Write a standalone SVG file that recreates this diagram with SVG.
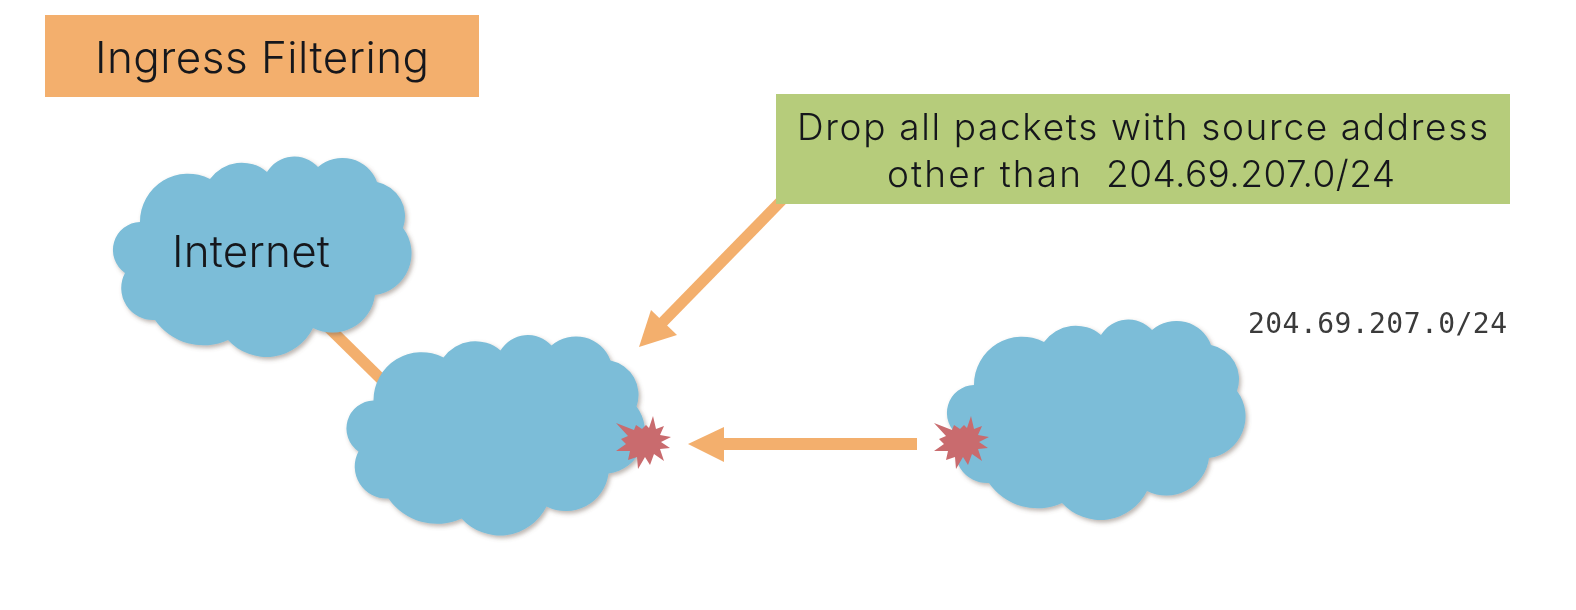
<svg xmlns="http://www.w3.org/2000/svg" width="1576" height="610" viewBox="0 0 1576 610">
<style>
.hand{font-family:Inter,"Liberation Sans",sans-serif;font-weight:300;fill:#14181a;filter:url(#soft)}
.mono{font-family:"DejaVu Sans Mono","Liberation Mono",monospace;font-size:28px;fill:#3a3a3a;filter:url(#soft)}
.cloud{fill:#7bbdd8;filter:url(#shadow)}
.star{fill:#c96b6e}
.arrow{fill:#f3af6d}
.link{stroke:#f3af6d;fill:none}
</style>
<defs>
<filter id="shadow" x="-5%" y="-5%" width="112%" height="112%">
<feDropShadow dx="2" dy="2.5" stdDeviation="2" flood-color="#6b5a50" flood-opacity=".45"/>
</filter>
<filter id="soft" x="-2%" y="-10%" width="104%" height="120%">
<feGaussianBlur stdDeviation=".5"/>
</filter>
<path id="cloudShape" d="M140 222A48 48 0 0 1 210 179A39 39 0 0 1 267 172A32 32 0 0 1 318 167A37 37 0 0 1 377 182A35 35 0 0 1 403 228A42 42 0 0 1 375 295A43 43 0 0 1 313 328A52 52 0 0 1 228 340A59 59 0 0 1 155 320A32 32 0 0 1 125 273A28 28 0 0 1 140 222Z"/>
<polygon id="starShape" points="10,-27 13,-14 21,-17 17,-8 28,-6 18,-1 27,5 17,6 21,18 11,11 7,22 2,14 -5,26 -6,14 -15,17 -13,8 -27,8 -17,1 -22,-4 -15,-7 -27,-20 -9,-13 -7,-18 -1,-14 3,-18 6,-15"/>
</defs>
<rect width="1576" height="610" fill="#fff"/>
<g id="connectors">
<path class="link" stroke-width="11" d="M323 322L384 382"/>
<path class="link" stroke-width="11" d="M785 197L660 325"/>
<polygon class="arrow" points="639,347 651,310 677,335"/>
<path class="link" stroke-width="12" d="M917 444H715"/>
<polygon class="arrow" points="688,444 724,427 724,462"/>
</g>
<g id="title">
<rect x="45" y="15" width="434" height="82" fill="#f3af6d"/>
<text class="hand" x="95" y="73" font-size="44" textLength="334">Ingress Filtering</text>
</g>
<g id="note">
<rect x="776" y="94" width="734" height="110" fill="#b6cc7b"/>
<text class="hand" x="797" y="140" font-size="37" textLength="691">Drop all packets with source address</text>
<text class="hand" y="187" font-size="37" xml:space="preserve"><tspan x="887" textLength="219">other than  </tspan><tspan x="1106" textLength="289">204.69.207.0/24</tspan></text>
</g>
<g id="internet">
<use href="#cloudShape" class="cloud"/>
<text class="hand" x="172" y="267" font-size="44" textLength="158">Internet</text>
</g>
<g id="router">
<use href="#cloudShape" class="cloud" transform="translate(233.5,178.5)"/>
<use href="#starShape" class="star" transform="translate(643,443)"/>
</g>
<g id="network">
<use href="#cloudShape" class="cloud" transform="translate(834,163)"/>
<use href="#starShape" class="star" transform="translate(961,443)"/>
<text class="mono" x="1248" y="333" textLength="259">204.69.207.0/24</text>
</g>
</svg>
